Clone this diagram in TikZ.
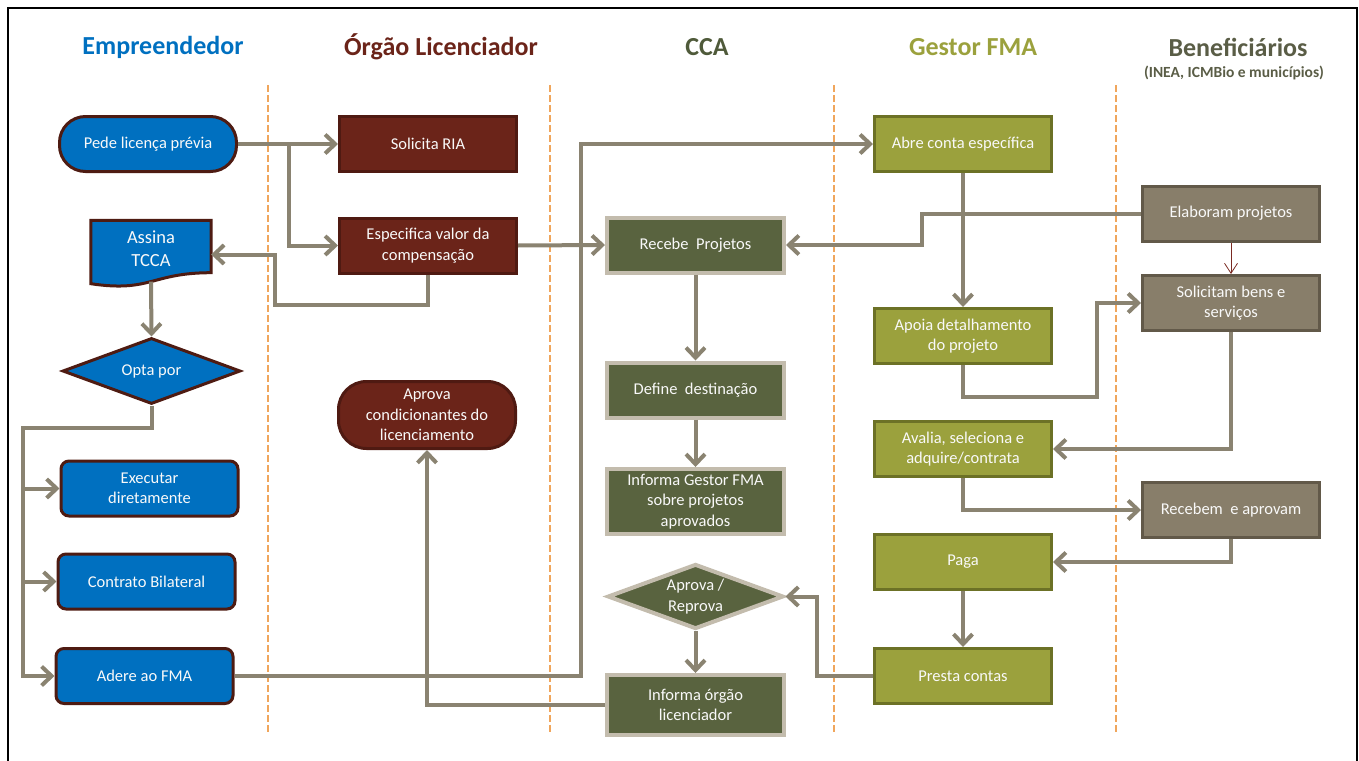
\documentclass[tikz,border=0pt]{standalone}
\usepackage{fontspec}
\setmainfont{Carlito}
\usepackage{xcolor}
\usepackage{tikz}
\usetikzlibrary{backgrounds, shapes.geometric, positioning, fit, arrows.meta}

\definecolor{empblue}{HTML}{0070C0}
\definecolor{empedge}{HTML}{4E1B12}
\definecolor{orgred}{HTML}{6B2419}
\definecolor{orgedge}{HTML}{4F1A12}
\definecolor{ccagreen}{HTML}{59633F}
\definecolor{ccaedge}{HTML}{C3BCAD}
\definecolor{ccatitle}{HTML}{4F5A3A}
\definecolor{fmaolive}{HTML}{9BA13D}
\definecolor{fmaedge}{HTML}{6C7126}
\definecolor{bengray}{HTML}{887E6A}
\definecolor{benedge}{HTML}{625949}
\definecolor{bentitle}{HTML}{5A5D46}
\definecolor{flowgray}{HTML}{8A8371}
\definecolor{laneorange}{HTML}{F0A65C}
\definecolor{thinred}{HTML}{7A2A22}

\begin{document}
\begin{tikzpicture}[
    x=1pt, y=-1pt,
    font=\fontsize{16.5}{20.5}\selectfont,
    box_base/.style={rectangle, align=center, inner sep=2pt, text=white!95!gray, line width=3pt, minimum width=177pt, minimum height=55pt},
    emp_box/.style={box_base, draw=empedge, fill=empblue, rounded corners=8pt},
    emp_term/.style={box_base, draw=empedge, fill=empblue, rounded corners=26pt},
    emp_diam/.style={diamond, aspect=2.65, align=center, inner sep=0pt, text=white!95!gray, line width=3pt, draw=empedge, fill=empblue, minimum width=178pt, minimum height=66pt},
    org_box/.style={box_base, draw=orgedge, fill=orgred},
    org_term/.style={box_base, draw=orgedge, fill=orgred, rounded corners=28pt, minimum height=67pt},
    cca_box/.style={box_base, draw=ccaedge, fill=ccagreen, line width=4pt},
    cca_diam/.style={diamond, aspect=2.6, align=center, inner sep=0pt, text=white!95!gray, line width=4pt, draw=ccaedge, fill=ccagreen, minimum width=176pt, minimum height=65pt},
    fma_box/.style={box_base, draw=fmaedge, fill=fmaolive},
    ben_box/.style={box_base, draw=benedge, fill=bengray},
    title_style/.style={font=\fontsize{26}{30}\selectfont\bfseries},
    lane_style/.style={draw=laneorange, line width=1.2pt, dash pattern=on 7pt off 3pt},
    line_style/.style={draw=flowgray, line width=4pt, -{Straight Barb[length=10pt,width=19pt]}},
    thin_style/.style={draw=thinred, line width=0.8pt, -{Straight Barb[length=10pt,width=13pt]}}
]

\pgfdeclarelayer{bg}    % declare background layer
\pgfsetlayers{bg,main}  % set layer order

\useasboundingbox (0,0) rectangle (1359,760);

% Frame and lanes
\draw[line width=2pt] (8,770) -- (8,8) -- (1357,8) -- (1357,770);
\foreach \x in {268,550,834,1116}
    \draw[lane_style] (\x,85) -- (\x,735);

% Column titles
\node[title_style, text=empblue] (t_emp) at (163,47) {Empreendedor};
\node[title_style, text=orgred] (t_org) at (441,47) {Órgão Licenciador};
\node[title_style, text=ccatitle] (t_cca) at (707,47) {CCA};
\node[title_style, text=fmaolive] (t_fma) at (973,47) {Gestor FMA};
\node[title_style, text=bentitle] (t_ben) at (1238,47) {Beneficiários};
\node[font=\fontsize{15.5}{18}\selectfont\bfseries, text=bentitle] (t_ben_sub) at (1234,73) {(INEA, ICMBio e municípios)};

% Empreendedor
\node[emp_term] (pede) at (148,144) {Pede licença prévia};
\node[align=center, text=white!95!gray, font=\fontsize{18.5}{23}\selectfont, minimum width=120pt, minimum height=56pt, inner sep=0pt] (tcca) at (151,248.5) {Assina\\TCCA};
\node[emp_diam] (opta) at (151.5,371) {Opta por};
\node[emp_box] (exec) at (149.5,488.5) {Executar\\diretamente};
\node[emp_box] (contrato) at (146.5,581.5) {Contrato Bilateral};
\node[emp_box] (adere) at (144.5,676) {Adere ao FMA};

\begin{pgfonlayer}{bg}
    \filldraw[draw=empedge, fill=empblue, line width=3pt] (tcca.north west) -- (tcca.north east) -- ([yshift=4pt]tcca.south east)
        .. controls ([yshift=4pt]tcca.south) and ([yshift=-16pt]tcca.south) .. ([yshift=-7pt]tcca.south west) -- cycle;
\end{pgfonlayer}

% Orgao licenciador
\node[org_box] (ria) at (428,144) {Solicita RIA};
\node[org_box] (esp) at (428,245.5) {Especifica valor da\\compensação};
\node[org_term] (cond) at (427,415) {Aprova\\condicionantes do\\licenciamento};

% CCA
\node[cca_box] (recebe) at (695.5,245) {Recebe~ Projetos};
\node[cca_box, below=86pt of recebe] (define) {Define~ destinação};
\node[cca_box, minimum height=65pt] (inf_gestor) at (695.5,501.5) {Informa Gestor FMA\\sobre projetos\\aprovados};
\node[cca_diam] (aprova) at (695.5,596.5) {Aprova /\\Reprova};
\node[cca_box, minimum height=60pt] (inf_org) at (695.5,705) {Informa órgão\\licenciador};

% Gestor FMA
\node[fma_box] (abre) at (963,144) {Abre conta específica};
\node[fma_box] (apoia) at (963,336) {Apoia detalhamento\\do projeto};
\node[fma_box] (avalia) at (963,449) {Avalia, seleciona e\\adquire/contrata};
\node[fma_box] (paga) at (963,562) {Paga};
\node[fma_box] (presta) at (963,676) {Presta contas};

% Beneficiarios
\node[ben_box] (elab) at (1231,213.5) {Elaboram projetos};
\node[ben_box] (solic) at (1231,303) {Solicitam bens e\\serviços};
\node[ben_box] (recebem) at (1231,510) {Recebem~ e aprovam};

% Connectors
\draw[line_style] (pede.east) -- (ria.west);
\draw[line_style] ([xshift=51pt]pede.east) |- (esp.west);
\draw[line_style] (esp.south) -- ++(0,30) -| ([xshift=64pt,yshift=-6pt]tcca.east) -- ([yshift=-6pt]tcca.east);
\draw[line_style] (esp.east) -- (recebe.west);
\draw[line_style] ([yshift=-5pt]tcca.south) -- (opta.north);
\draw[line_style] (opta.south) -- ++(0,22) -| ([xshift=-32pt]adere.west) -- (adere.west);
\draw[line_style] ([xshift=-32pt]adere.west |- exec.west) -- (exec.west);
\draw[line_style] ([xshift=-32pt]adere.west |- contrato.west) -- (contrato.west);
\draw[line_style] (adere.east) -| ([xshift=-292pt]abre.west) -- (abre.west);
\draw[line_style] (inf_org.west) -| (cond.south);

\draw[line_style] (recebe.south) -- (define.north);
\draw[line_style] (define.south) -- (inf_gestor.north);
\draw[line_style] (aprova.south) -- (inf_org.north);

\draw[line_style] (abre.south) -- (apoia.north);
\draw[line_style] (apoia.south) -- ++(0,32) -| ([xshift=-44pt]solic.west) -- (solic.west);
\draw[line_style] (avalia.south) |- (recebem.west);
\draw[line_style] (paga.south) -- (presta.north);
\draw[line_style] (presta.west) -- ++(-56,0) |- (aprova.east);

\draw[line_style] (elab.west) -- ++(-219,0) |- (recebe.east);
\draw[thin_style] (elab.south) -- (solic.north);
\draw[line_style] (solic.south) |- (avalia.east);
\draw[line_style] (recebem.south) |- (paga.east);

\end{tikzpicture}
\end{document}
